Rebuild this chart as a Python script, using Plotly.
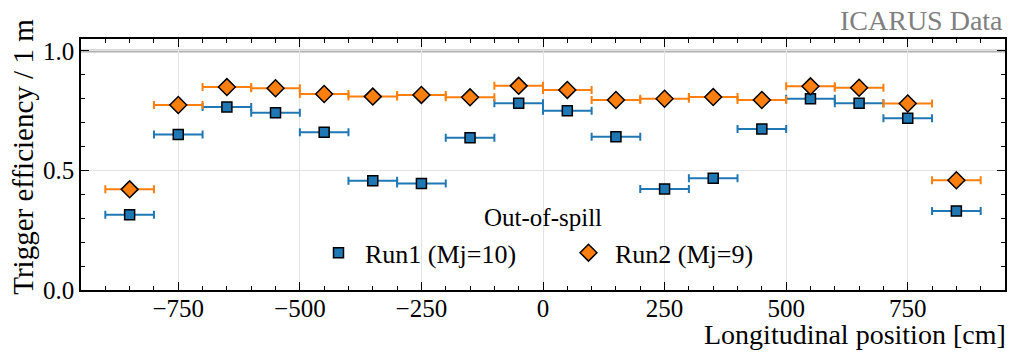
import plotly.graph_objects as go

positions = [-850, -750, -650, -550, -450, -350, -250, -150, -50,
             50, 150, 250, 350, 450, 550, 650, 750, 850]
half_width = [50] * 18
run1_eff = [0.315, 0.650, 0.766, 0.742, 0.660, 0.457, 0.446, 0.637, 0.781,
            0.750, 0.641, 0.423, 0.467, 0.674, 0.800, 0.781, 0.718, 0.331]
run2_eff = [0.421, 0.774, 0.849, 0.844, 0.820, 0.809, 0.816, 0.806, 0.854,
            0.837, 0.795, 0.800, 0.807, 0.795, 0.852, 0.846, 0.780, 0.459]
run1_label = "Run1 (Mj=10)"
run2_label = "Run2 (Mj=9)"
legend_title = "Out-of-spill"
ref_level = 1.0

BLUE = "#1f77b4"
ORANGE = "#ff7f0e"
FONT = "Liberation Serif, Times New Roman, serif"

fig = go.Figure()
fig.add_trace(go.Scatter(
    x=positions, y=run1_eff, mode="markers", name=run1_label,
    marker=dict(symbol="square", size=10, color=BLUE, line=dict(color="black", width=1.5)),
    error_x=dict(type="data", array=half_width, color=BLUE, thickness=2, width=4),
))
fig.add_trace(go.Scatter(
    x=positions, y=run2_eff, mode="markers", name=run2_label,
    marker=dict(symbol="diamond", size=13, color=ORANGE, line=dict(color="black", width=1.5)),
    error_x=dict(type="data", array=half_width, color=ORANGE, thickness=2, width=4),
))
fig.add_hline(y=ref_level, line=dict(color="#b0b0b0", width=3), layer="below")

axis_common = dict(
    showline=True, linecolor="black", linewidth=1.5, mirror="ticks",
    ticks="inside", ticklen=8, tickwidth=1.2, tickcolor="black",
    showgrid=True, gridcolor="#e3e3e3", gridwidth=1, zeroline=False,
    automargin=False,
    tickfont=dict(family=FONT, size=25, color="black"),
)
fig.update_xaxes(
    range=[-950, 950], tickvals=[-750, -500, -250, 0, 250, 500, 750],
    ticktext=["\u2212750", "\u2212500", "\u2212250", "0", "250", "500", "750"],
    minor=dict(ticks="inside", dtick=50, tick0=0, ticklen=4, tickcolor="black", showgrid=False),
    ticklabelstandoff=-5,
    **axis_common,
)
fig.update_yaxes(
    range=[0, 1.05], tickvals=[0, 0.5, 1.0], ticktext=["0.0", "0.5", "1.0"],
    minor=dict(ticks="inside", dtick=0.1, tick0=0, ticklen=4, tickcolor="black", showgrid=False),
    **axis_common,
)

# page has an 8px body margin, so the figure is 8px smaller and margins compensate
fig.update_layout(
    width=1008, height=353,
    margin=dict(l=73, r=11, t=31, b=71),
    plot_bgcolor="white", paper_bgcolor="white",
    font=dict(family=FONT, size=25, color="black"),
    showlegend=True,
    legend=dict(
        orientation="h", x=0.25, xanchor="left", y=0.242, yanchor="top",
        bgcolor="rgba(0,0,0,0)", font=dict(family=FONT, size=26),
        itemwidth=43, entrywidthmode="pixels", entrywidth=192,
    ),
    annotations=[
        dict(text=legend_title, xref="paper", yref="paper", x=0.5, y=0.29,
             xanchor="center", yanchor="middle", showarrow=False,
             font=dict(family=FONT, size=25, color="black")),
        dict(text="ICARUS Data", xref="paper", yref="paper", x=1, y=1.004,
             xanchor="right", yanchor="bottom", showarrow=False,
             font=dict(family=FONT, size=28, color="#808080")),
        dict(text="Longitudinal position [cm]", xref="paper", yref="paper", x=1.003, y=-0.178,
             xanchor="right", yanchor="middle", showarrow=False,
             font=dict(family=FONT, size=28, color="black")),
        dict(text="Trigger efficiency / 1 m", xref="paper", yref="paper", x=-0.063, y=0.53,
             xanchor="center", yanchor="middle", showarrow=False, textangle=-90,
             font=dict(family=FONT, size=29, color="black")),
    ],
)

fig.write_html("out.html")
